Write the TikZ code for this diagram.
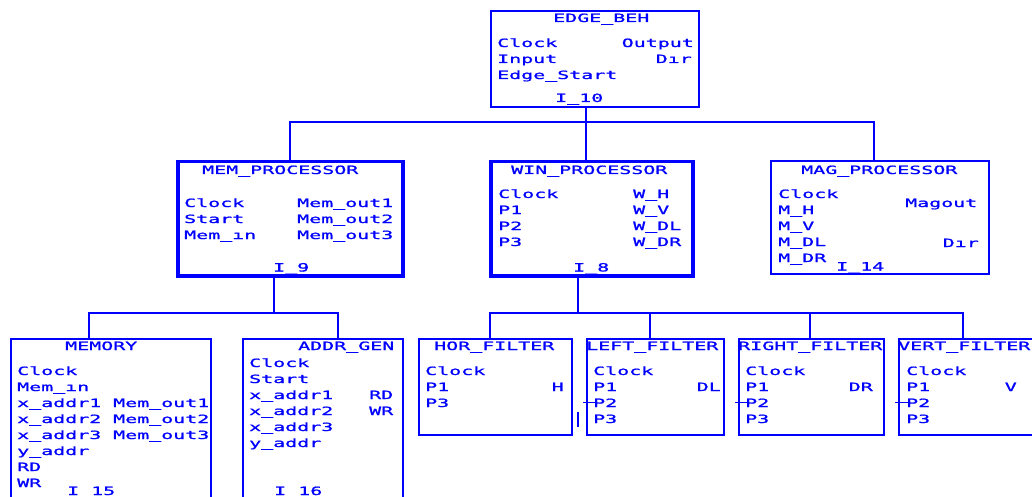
\documentclass[tikz,border=0pt]{standalone}
\usepackage{fontspec}
\newfontfamily\pix[FakeStretch=1.75,FakeBold=1.2]{DejaVu Sans Mono}
\definecolor{pb}{RGB}{0,0,255}
\tikzset{
  thinbox/.style={draw=pb, line width=1.8pt, inner sep=0pt, anchor=north west},
  thickbox/.style={draw=pb, line width=3.5pt, inner sep=0pt, anchor=north west},
  wire/.style={draw=pb, line width=1.8pt},
  lt/.style={inner sep=0pt, anchor=base west, text=pb, font=\pix\fontsize{11.4}{11.4}\selectfont},
  rt/.style={inner sep=0pt, anchor=base east, text=pb, font=\pix\fontsize{11.4}{11.4}\selectfont},
}
\begin{document}
\begin{tikzpicture}[x=1pt,y=-1pt]
\useasboundingbox (0,0) rectangle (1032,497);
\clip (0,0) rectangle (1032,497);
\fill[white] (0,0) rectangle (1032,497);

% boxes
\node[thinbox, minimum width=208pt, minimum height=96pt] (edge) at (490,10) {};
\node[thickbox, minimum width=225pt, minimum height=114pt] (mem) at (176,160) {};
\node[thickbox, minimum width=202pt, minimum height=114pt] (win) at (489,160) {};
\node[thinbox, minimum width=218pt, minimum height=113pt] (mag) at (770,160) {};
\node[thinbox, minimum width=200pt, minimum height=180pt] (memory) at (10,338) {};
\node[thinbox, minimum width=160pt, minimum height=180pt] (addr) at (242,338) {};
\node[thinbox, minimum width=153pt, minimum height=96pt] (hor) at (418,338) {};
\node[thinbox, minimum width=137pt, minimum height=96pt] (left) at (586,338) {};
\node[thinbox, minimum width=145pt, minimum height=96pt] (right) at (738,338) {};
\node[thinbox, minimum width=150pt, minimum height=96pt] (vert) at (898,338) {};

% level 1 bus
\coordinate (j1) at (586,122);
\coordinate (j1l) at (290,122);
\coordinate (j1r) at (874,122);
\draw[wire] (edge.south -| j1) -- (j1);
\draw[wire] (mem.north -| j1l) |- (j1r) -- (mag.north -| j1r);
\draw[wire] (j1) -- (win.north -| j1);

% level 2 bus (mem)
\coordinate (j2) at (274,313);
\coordinate (j2l) at (89,313);
\coordinate (j2r) at (338,313);
\draw[wire] (mem.south -| j2) -- (j2);
\draw[wire] (memory.north -| j2l) |- (j2r) -- (addr.north -| j2r);

% level 2 bus (win)
\coordinate (j3) at (578,313);
\coordinate (j3a) at (490,313);
\coordinate (j3b) at (650,313);
\coordinate (j3c) at (810,313);
\coordinate (j3d) at (963,313);
\draw[wire] (win.south -| j3) -- (j3);
\draw[wire] (hor.north -| j3a) |- (j3d) -- (vert.north -| j3d);
\draw[wire] (j3b) -- (left.north -| j3b);
\draw[wire] (j3c) -- (right.north -| j3c);

% EDGE_BEH
\node[lt] (t1) at (553,22) {EDGE\_BEH};
\node[lt] (t2) at (497,47) {Clock};
\node[lt] (t3) at (497,63) {Input};
\node[lt] (t4) at (497,79) {Edge\_Start};
\node[rt] (t5) at (694,47) {Output};
\node[rt] (t6) at (692,63) {D\i r};
\node[lt] (t7) at (555,102) {I\_10};

% MEM_PROCESSOR
\node[lt] (m1) at (202,174) {MEM\_PROCESSOR};
\node[lt] (m2) at (184,207) {Clock};
\node[lt] (m3) at (184,223) {Start};
\node[lt] (m4) at (184,239) {Mem\_\i n};
\node[lt] (m5) at (297,207) {Mem\_out1};
\node[lt] (m6) at (297,223) {Mem\_out2};
\node[lt] (m7) at (297,239) {Mem\_out3};
\node[lt] (m8) at (273,271.5) {I\_9};

% WIN_PROCESSOR
\node[lt] (w1) at (511,174) {WIN\_PROCESSOR};
\node[lt] (w2) at (498,198) {Clock};
\node[lt] (w3) at (498,214) {P1};
\node[lt] (w4) at (498,230) {P2};
\node[lt] (w5) at (498,246) {P3};
\node[lt] (w6) at (633,198) {W\_H};
\node[lt] (w7) at (633,214) {W\_V};
\node[lt] (w8) at (633,230) {W\_DL};
\node[lt] (w9) at (633,246) {W\_DR};
\node[lt] (w10) at (573,271.5) {I\_8};

% MAG_PROCESSOR
\node[lt] (g1) at (801,174) {MAG\_PROCESSOR};
\node[lt] (g2) at (778,198) {Clock};
\node[lt] (g3) at (778,214) {M\_H};
\node[lt] (g4) at (778,230) {M\_V};
\node[lt] (g5) at (778,246) {M\_DL};
\node[lt] (g6) at (778,262) {M\_DR};
\node[lt] (g7) at (905,207) {Magout};
\node[rt] (g8) at (979,247) {D\i r};
\node[lt] (g9) at (836,270.5) {I\_14};

% MEMORY
\node[lt] (y1) at (65,350) {MEMORY};
\node[lt] (y2) at (17,375) {Clock};
\node[lt] (y3) at (17,391) {Mem\_\i n};
\node[lt] (y4) at (17,407) {x\_addr1};
\node[lt] (y5) at (17,423) {x\_addr2};
\node[lt] (y6) at (17,439) {x\_addr3};
\node[lt] (y7) at (17,455) {y\_addr};
\node[lt] (y8) at (17,471) {RD};
\node[lt] (y9) at (17,487) {WR};
\node[lt] (y10) at (113,407) {Mem\_out1};
\node[lt] (y11) at (113,423) {Mem\_out2};
\node[lt] (y12) at (113,439) {Mem\_out3};
\node[lt] (y13) at (67,495) {I\_15};

% ADDR_GEN
\node[lt] (a1) at (298,350) {ADDR\_GEN};
\node[lt] (a2) at (249,367) {Clock};
\node[lt] (a3) at (249,383) {Start};
\node[lt] (a4) at (249,399) {x\_addr1};
\node[lt] (a5) at (249,415) {x\_addr2};
\node[lt] (a6) at (249,431) {x\_addr3};
\node[lt] (a7) at (249,447) {y\_addr};
\node[lt] (a8) at (369,399) {RD};
\node[lt] (a9) at (369,415) {WR};
\node[lt] (a10) at (274,495) {I\_16};

% HOR_FILTER
\node[lt] (h1) at (434,350) {HOR\_FILTER};
\node[lt] (h2) at (425,375) {Clock};
\node[lt] (h3) at (425,391) {P1};
\node[lt] (h4) at (425,407) {P3};
\node[rt] (h5) at (564,391) {H};

% LEFT_FILTER
\node[lt] (l1) at (586,350) {LEFT\_FILTER};
\node[lt] (l2) at (593,375) {Clock};
\node[lt] (l3) at (593,391) {P1};
\node[lt] (l4) at (593,407) {P2};
\node[lt] (l5) at (593,423) {P3};
\node[rt] (l6) at (721,391) {DL};

% RIGHT_FILTER
\node[lt] (r1) at (738,350) {RIGHT\_FILTER};
\node[lt] (r2) at (745,375) {Clock};
\node[lt] (r3) at (745,391) {P1};
\node[lt] (r4) at (745,407) {P2};
\node[lt] (r5) at (745,423) {P3};
\node[rt] (r6) at (873,391) {DR};

% VERT_FILTER
\node[lt] (v1) at (898,350) {VERT\_FILTER};
\node[lt] (v2) at (906,375) {Clock};
\node[lt] (v3) at (906,391) {P1};
\node[lt] (v4) at (906,407) {P2};
\node[lt] (v5) at (906,423) {P3};
\node[rt] (v6) at (1017,391) {V};

% pin stubs
\coordinate (s1) at (583,0);
\coordinate (s2) at (735,0);
\coordinate (s3) at (895,0);
\draw[wire, line width=1.3pt] (l4.west -| s1) -- ([xshift=3pt]l4.west);
\draw[wire, line width=1.3pt] (r4.west -| s2) -- ([xshift=3pt]r4.west);
\draw[wire, line width=1.3pt] (v4.west -| s3) -- ([xshift=3pt]v4.west);
\coordinate (p1) at (578,412);
\coordinate (p2) at (578,427);
\draw[wire, line width=1.3pt] (p1) -- (p2);
\end{tikzpicture}
\end{document}
